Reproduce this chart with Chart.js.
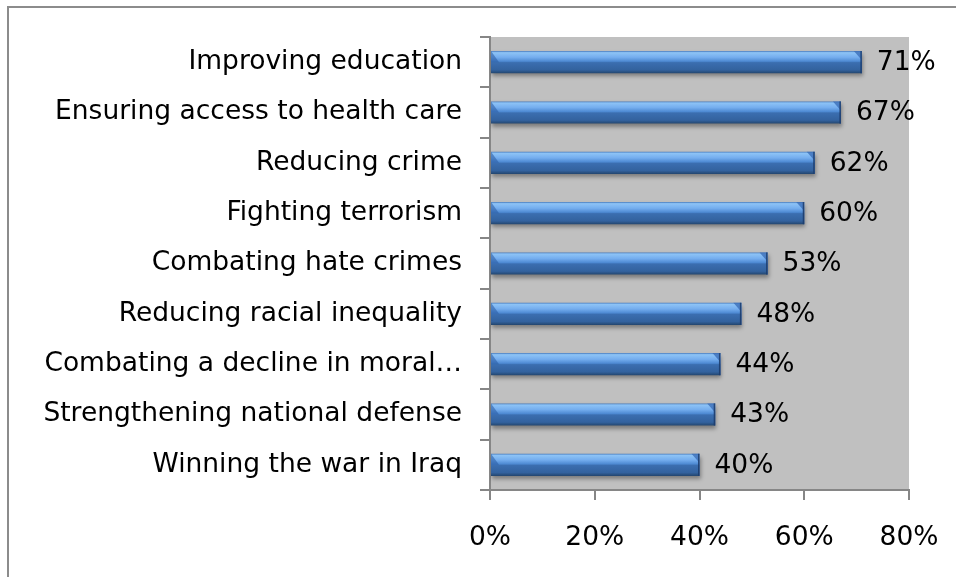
<!DOCTYPE html>
<html>
<head>
<meta charset="utf-8">
<script src="https://cdn.jsdelivr.net/npm/chart.js@4/dist/chart.umd.min.js"></script>
<style>
  html, body { margin: 0; padding: 0; background: #ffffff; }
  #wrap { width: 956px; height: 577px; position: relative; }
</style>
</head>
<body>
<div id="wrap"><canvas id="c" width="956" height="577"></canvas></div>
<script>
const categories = [
  "Improving education",
  "Ensuring access to health care",
  "Reducing crime",
  "Fighting terrorism",
  "Combating hate crimes",
  "Reducing racial inequality",
  "Combating a decline in moral\u2026",
  "Strengthening national defense",
  "Winning the war in Iraq"
];
const values = [71, 67, 62, 60, 53, 48, 44, 43, 40];
const xTicks = [0, 20, 40, 60, 80];

const FONT = "'DejaVu Sans', sans-serif";
const FONT_SIZE = 26.5;
const BAR_PCT = 0.44;

function barGradient(ctx) {
  const chart = ctx.chart;
  const ys = chart.scales && chart.scales.y;
  if (!chart.chartArea || !ys) return '#3A6DB0';
  const y = ys.getPixelForValue(ctx.dataIndex);
  const h = (chart.chartArea.bottom - chart.chartArea.top) / categories.length * BAR_PCT;
  const g = chart.ctx.createLinearGradient(0, y - h / 2, 0, y + h / 2);
  g.addColorStop(0, '#4A7DBE');
  g.addColorStop(0.07, '#8DC3F6');
  g.addColorStop(0.28, '#74ADEE');
  g.addColorStop(0.46, '#4E8AD3');
  g.addColorStop(0.52, '#3B6EB0');
  g.addColorStop(0.85, '#33629E');
  g.addColorStop(1, '#23466F');
  return g;
}

const bgPlugin = {
  id: 'bg',
  beforeDraw(chart) {
    const { ctx, chartArea: a } = chart;
    ctx.save();
    ctx.fillStyle = '#ffffff';
    ctx.fillRect(0, 0, chart.width, chart.height);
    ctx.strokeStyle = '#8C8C8C';
    ctx.lineWidth = 2;
    ctx.strokeRect(8, 7, 2000, 2000);
    ctx.fillStyle = '#C0C0C0';
    ctx.fillRect(a.left, a.top, a.right - a.left, a.bottom - a.top);
    ctx.restore();
  },
  beforeDatasetsDraw(chart) {
    const ctx = chart.ctx;
    ctx.save();
    ctx.shadowColor = 'rgba(0,0,0,0.35)';
    ctx.shadowBlur = 4;
    ctx.shadowOffsetX = 1;
    ctx.shadowOffsetY = 3;
  },
  afterDatasetsDraw(chart) {
    const ctx = chart.ctx;
    ctx.restore();
    const meta = chart.getDatasetMeta(0);
    ctx.save();
    // end bevels
    meta.data.forEach((bar) => {
      const top = bar.y - bar.height / 2;
      const bot = bar.y + bar.height / 2;
      const mid = bar.y;
      ctx.fillStyle = 'rgba(40,90,160,0.55)';
      ctx.beginPath();
      ctx.moveTo(bar.base, top);
      ctx.lineTo(bar.base + 8, mid);
      ctx.lineTo(bar.base, mid);
      ctx.closePath();
      ctx.fill();
      ctx.fillStyle = 'rgba(55,105,180,0.75)';
      ctx.beginPath();
      ctx.moveTo(bar.x, top);
      ctx.lineTo(bar.x - 8, top);
      ctx.lineTo(bar.x - 1, top + 8);
      ctx.lineTo(bar.x - 1, bot);
      ctx.lineTo(bar.x, bot);
      ctx.closePath();
      ctx.fill();
      ctx.fillStyle = 'rgba(25,55,100,0.8)';
      ctx.fillRect(bar.x - 1.5, top, 1.5, bot - top);
    });
    // value labels
    ctx.fillStyle = '#000000';
    ctx.font = FONT_SIZE + 'px ' + FONT;
    ctx.textAlign = 'left';
    ctx.textBaseline = 'middle';
    meta.data.forEach((bar, i) => {
      ctx.fillText(values[i] + '%', bar.x + 15, bar.y + 1);
    });
    ctx.restore();
  }
};

new Chart(document.getElementById('c'), {
  type: 'bar',
  data: {
    labels: categories,
    datasets: [{
      data: values,
      backgroundColor: barGradient,
      borderWidth: 0,
      categoryPercentage: 1,
      barPercentage: BAR_PCT
    }]
  },
  options: {
    indexAxis: 'y',
    responsive: false,
    animation: false,
    devicePixelRatio: 1,
    layout: { padding: { top: 37, right: 47, left: 0, bottom: 0 } },
    plugins: { legend: { display: false }, tooltip: { enabled: false } },
    scales: {
      x: {
        min: 0, max: 80,
        afterBuildTicks(scale) { scale.ticks = xTicks.map(v => ({ value: v })); },
        afterFit(scale) { scale.height = 87; scale.paddingLeft = 0; scale.paddingRight = 0; },
        border: { display: true, color: '#868686', width: 2 },
        grid: { drawOnChartArea: false, drawTicks: true, tickLength: 10, color: '#868686', lineWidth: 2 },
        ticks: {
          color: '#000000',
          font: { family: FONT, size: FONT_SIZE },
          padding: 22,
          callback: (v) => v + '%'
        }
      },
      y: {
        afterFit(scale) { scale.width = 490; scale.paddingTop = 0; scale.paddingBottom = 0; },
        border: { display: true, color: '#868686', width: 2 },
        grid: { offset: true, drawOnChartArea: false, drawTicks: true, tickLength: 10, color: '#868686', lineWidth: 2 },
        ticks: {
          color: '#000000',
          font: { family: FONT, size: FONT_SIZE },
          padding: 18,
          autoSkip: false
        }
      }
    }
  },
  plugins: [bgPlugin]
});
</script>
</body>
</html>
